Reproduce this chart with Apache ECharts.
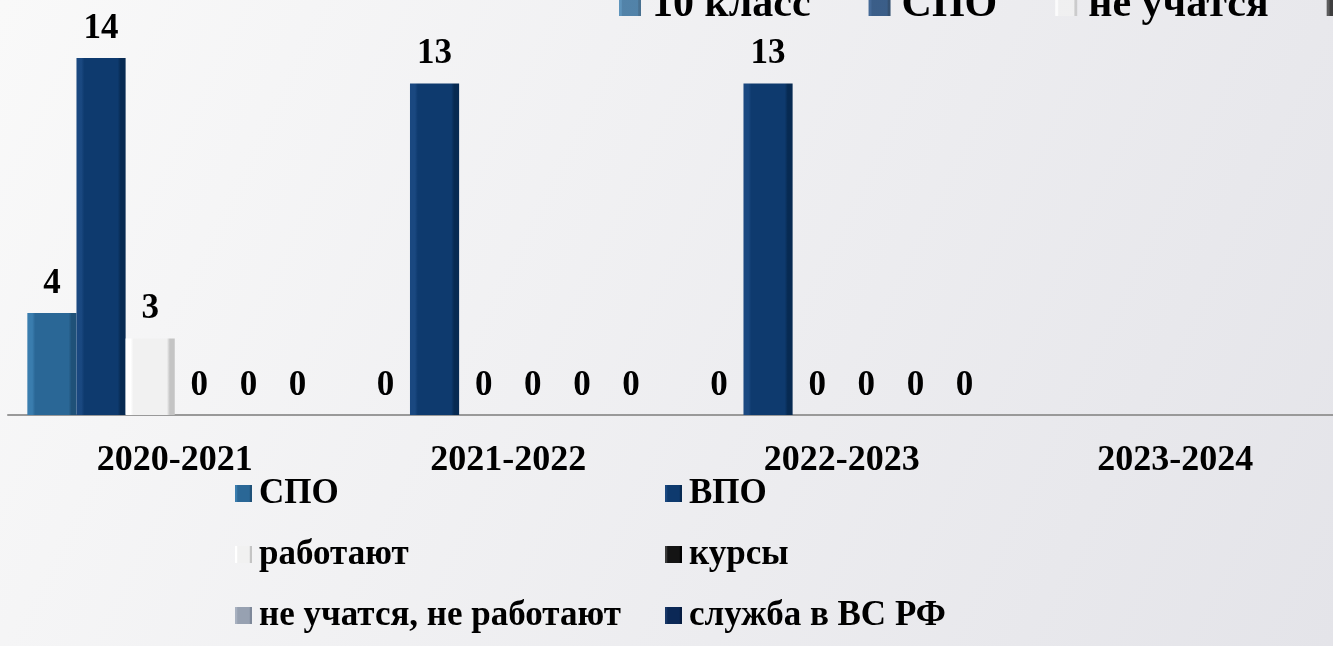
<!DOCTYPE html>
<html>
<head>
<meta charset="utf-8">
<script src="https://cdn.jsdelivr.net/npm/echarts@6/dist/echarts.min.js"></script>
<style>
  html, body { margin: 0; padding: 0; }
  #chart { width: 1333px; height: 646px; }
</style>
</head>
<body>
<div id="chart"></div>
<script>
const categories = ["2020-2021", "2021-2022", "2022-2023", "2023-2024"];

// values per series, '-' = no data
const spo = [4, 0, 0, "-"];
const vpo = [14, 13, 13, "-"];
const rabotayut = [3, 0, 0, "-"];
const kursy = [0, 0, 0, "-"];
const neUchatsya = [0, 0, 0, "-"];
const sluzhba = [0, 0, 0, "-"];

const seriesNames = ["СПО", "ВПО", "работают", "курсы", "не учатся, не работают", "служба в ВС РФ"];
const seriesData = [spo, vpo, rabotayut, kursy, neUchatsya, sluzhba];

// second (top) legend, partly cut off in the original slide
const topLegendNames = ["10 класс", "СПО ", "не учатся", "работают "];

const FONT = "'Liberation Serif', 'Times New Roman', serif";

function bevel(light, mid, dark) {
  return new echarts.graphic.LinearGradient(0, 0, 1, 0, [
    { offset: 0, color: light },
    { offset: 0.1, color: light },
    { offset: 0.16, color: mid },
    { offset: 0.84, color: mid },
    { offset: 0.9, color: dark },
    { offset: 1, color: dark },
  ]);
}

const colors = [
  bevel("#3A7DAE", "#2A6796", "#1F5178"),
  bevel("#1A4880", "#0E3A6E", "#072A52"),
  bevel("#FFFFFF", "#F1F1F1", "#C4C4C4"),
  bevel("#3A3A3A", "#141414", "#000000"),
  bevel("#A8B1C0", "#97A1B1", "#7E8899"),
  bevel("#183767", "#0B2856", "#061C40"),
];

const myChart = echarts.init(document.getElementById("chart"));

const barSeries = seriesNames.map((name, i) => ({
  name: name,
  type: "bar",
  data: seriesData[i],
  barGap: 0,
  barCategoryGap: "11.6%",
  itemStyle: { color: colors[i] },
  label: {
    show: true,
    position: "top",
    distance: 12,
    fontSize: 35,
    fontWeight: "bold",
    fontFamily: FONT,
    color: "#000",
  },
}));

// empty series only to feed the top legend
const topSeries = topLegendNames.map((name, i) => ({
  name: name,
  type: "scatter",
  data: [],
  itemStyle: { color: colors[i] },
}));

const options = {
  backgroundColor: {
    type: "linear",
    x: 0, y: 0, x2: 1, y2: 1,
    colorStops: [
      { offset: 0, color: "#F9F9F9" },
      { offset: 1, color: "#E4E4E9" },
    ],
  },
  animation: false,
  legend: [
    {
      data: seriesNames,
      left: 235,
      top: 463,
      width: 870,
      padding: 0,
      itemGap: 0,
      itemWidth: 17,
      itemHeight: 17,
      icon: "rect",
      textStyle: {
        fontSize: 35,
        fontWeight: "bold",
        fontFamily: FONT,
        color: "#000",
        width: 406,
        lineHeight: 61,
        padding: [0, 0, 0, 2],
      },
    },
    {
      data: topLegendNames,
      left: 619,
      top: -16,
      width: 2000,
      padding: 0,
      itemGap: 58,
      itemWidth: 22,
      itemHeight: 22,
      icon: "rect",
      formatter: (name) => name.trim(),
      textStyle: {
        fontSize: 42,
        fontWeight: "bold",
        fontFamily: FONT,
        color: "#000",
        padding: [0, 0, 0, 6],
      },
    },
  ],
  grid: {
    left: 8,
    top: 7,
    width: 1334,
    height: 408,
    outerBoundsMode: "none",
  },
  xAxis: {
    type: "category",
    data: categories,
    axisLine: { lineStyle: { color: "#999", width: 2 } },
    axisTick: { show: false },
    axisLabel: {
      interval: 0,
      margin: 28,
      fontSize: 36,
      fontWeight: "bold",
      fontFamily: FONT,
      color: "#000",
    },
  },
  yAxis: {
    type: "value",
    min: 0,
    max: 16,
    show: false,
    splitLine: { show: false },
  },
  series: barSeries.concat(topSeries),
};

myChart.setOption(options);
</script>
</body>
</html>
